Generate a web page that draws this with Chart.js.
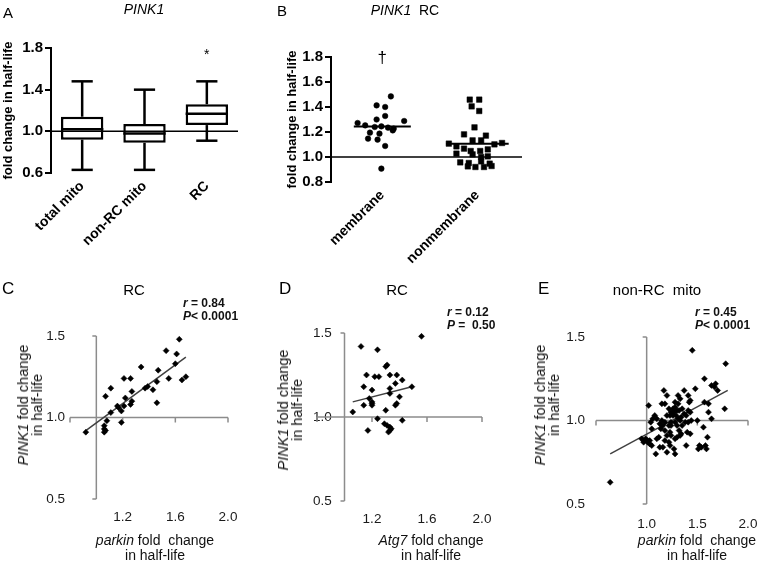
<!DOCTYPE html>
<html><head><meta charset="utf-8">
<script src="https://cdn.jsdelivr.net/npm/chart.js@4.4.1/dist/chart.umd.min.js"></script>
<style>
html,body{margin:0;padding:0;background:#fff;}
body{position:relative;width:759px;height:570px;overflow:hidden;font-family:Arial,"Liberation Sans",Helvetica,sans-serif;color:#000;}
canvas{position:absolute;}
.t{position:absolute;white-space:nowrap;line-height:1;}
.c{transform:translateX(-50%);}
.yt{position:absolute;white-space:nowrap;text-align:center;transform:translate(-50%,-50%) rotate(-90deg);font-size:14.5px;line-height:14px;color:#111;}
.xt{position:absolute;white-space:nowrap;text-align:center;transform:translateX(-50%);font-size:14px;line-height:15px;color:#111;}
.rp{position:absolute;white-space:nowrap;font-weight:bold;font-size:12px;line-height:13px;color:#111;}
</style></head><body>
<canvas id="cA" width="250" height="272" style="left:0px;top:0px"></canvas>
<canvas id="cB" width="270" height="272" style="left:262px;top:0px"></canvas>
<canvas id="cC" width="250" height="290" style="left:0px;top:280px"></canvas>
<canvas id="cD" width="250" height="290" style="left:250px;top:280px"></canvas>
<canvas id="cE" width="259" height="290" style="left:500px;top:280px"></canvas>

<div class="t" style="left:3px;top:5px;font-size:15px">A</div>
<div class="t c" style="left:144px;top:2px;font-size:14px;font-style:italic">PINK1</div>
<div class="t" style="left:277px;top:3px;font-size:15px">B</div>
<div class="t c" style="left:405px;top:3px;font-size:14px"><i>PINK1</i>&nbsp; RC</div>

<div class="t" style="left:2px;top:280px;font-size:17px">C</div>
<div class="t c" style="left:134px;top:282px;font-size:15px">RC</div>
<div class="rp" style="left:183px;top:297px"><i>r</i> = 0.84<br><i>P</i>&lt; 0.0001</div>
<div class="yt" style="left:30px;top:405px"><i>PINK1</i> fold change<br>in half-life</div>
<div class="xt" style="left:155px;top:533px"><i>parkin</i> fold&nbsp; change<br>in half-life</div>

<div class="t" style="left:279px;top:280px;font-size:17px">D</div>
<div class="t c" style="left:397px;top:282px;font-size:15px">RC</div>
<div class="rp" style="left:447px;top:306px"><i>r</i> = 0.12<br><i>P</i> = &nbsp;0.50</div>
<div class="yt" style="left:290px;top:410px"><i>PINK1</i> fold change<br>in half-life</div>
<div class="xt" style="left:431px;top:533px"><i>Atg7</i> fold change<br>in half-life</div>

<div class="t" style="left:538px;top:280px;font-size:17px">E</div>
<div class="t c" style="left:657px;top:282px;font-size:15px">non-RC&nbsp; mito</div>
<div class="rp" style="left:695px;top:306px"><i>r</i> = 0.45<br><i>P</i>&lt; 0.0001</div>
<div class="yt" style="left:547px;top:405px"><i>PINK1</i> fold change<br>in half-life</div>
<div class="xt" style="left:697px;top:533px"><i>parkin</i> fold&nbsp; change<br>in half-life</div>

<script>
// ---------- Panel A: box plots ----------
const boxCategories = ['total mito', 'non-RC mito', 'RC'];
const boxMin = [0.63, 0.63, 0.91];
const boxQ1 = [0.92, 0.89, 1.06];
const boxMedian = [1.02, 0.98, 1.17];
const boxQ3 = [1.14, 1.07, 1.26];
const boxMax = [1.48, 1.40, 1.48];
const aYTicks = [0.6, 1.0, 1.4, 1.8];

// ---------- Panel B: column scatter ----------
const bCategories = ['membrane', 'nonmembrane'];
const bYTicks = [0.8, 1.0, 1.2, 1.4, 1.6, 1.8];
const membranePts = [[0.09,1.485],[-0.06,1.413],[0.03,1.40],[0.03,1.328],[-0.06,1.30],[-0.26,1.272],[-0.18,1.253],[-0.08,1.24],[-0.01,1.245],[0.06,1.235],[0.12,1.227],[0.23,1.288],[-0.13,1.195],[-0.03,1.187],[0.11,1.213],[-0.15,1.147],[-0.05,1.139],[0.03,1.088],[-0.01,0.907]];
const nonmembranePts = [[0.92,1.459],[1.02,1.459],[0.94,1.405],[1.02,1.368],[0.97,1.237],[0.86,1.181],[1.09,1.171],[0.70,1.107],[0.78,1.085],[0.95,1.133],[1.04,1.133],[1.18,1.101],[1.26,1.112],[0.86,1.067],[0.93,1.048],[1.03,1.048],[1.11,1.061],[0.78,1.027],[0.95,1.021],[1.04,1.0],[1.11,1.005],[0.82,0.957],[0.91,0.952],[1.04,0.965],[1.13,0.947],[0.90,0.925],[0.98,0.92],[1.07,0.92],[1.15,0.928]];
const bMedians = [1.245, 1.107];

// ---------- Panel C: RC, parkin vs PINK1 ----------
const cPoints = [[0.92,0.91],[1.06,0.95],[1.06,0.93],[1.07,0.92],[1.06,0.91],[1.08,0.98],[1.11,1.03],[1.07,1.13],[1.11,1.18],[1.16,1.07],[1.17,1.06],[1.19,0.97],[1.19,1.04],[1.21,1.07],[1.22,1.12],[1.21,1.24],[1.26,1.24],[1.26,1.08],[1.27,1.10],[1.27,1.16],[1.34,1.31],[1.37,1.18],[1.39,1.19],[1.43,1.17],[1.46,1.09],[1.46,1.22],[1.47,1.29],[1.53,1.41],[1.55,1.24],[1.60,1.33],[1.61,1.39],[1.63,1.48],[1.65,1.23],[1.68,1.25]];
const cFit = [[0.92,0.92],[1.68,1.37]];
const cXTicks = [0.8, 1.2, 1.6, 2.0];

// ---------- Panel D: RC, Atg7 vs PINK1 ----------
const dPoints = [[1.56,1.48],[1.12,1.42],[1.24,1.40],[1.31,1.31],[1.30,1.30],[1.16,1.25],[1.22,1.24],[1.25,1.24],[1.33,1.25],[1.38,1.25],[1.42,1.22],[1.14,1.18],[1.20,1.16],[1.33,1.17],[1.37,1.20],[1.49,1.18],[1.33,1.14],[1.40,1.12],[1.18,1.11],[1.20,1.09],[1.20,1.08],[1.20,1.07],[1.14,1.07],[1.38,1.08],[1.37,1.07],[1.30,1.04],[1.06,1.03],[1.24,0.99],[1.42,0.98],[1.29,0.96],[1.31,0.95],[1.33,0.94],[1.34,0.93],[1.33,0.92],[1.32,0.91],[1.17,0.92]];
const dFit = [[1.06,1.09],[1.49,1.18]];
const dXTicks = [0.8, 1.2, 1.6, 2.0];

// ---------- Panel E: non-RC mito, parkin vs PINK1 ----------
const ePoints = [[1.45,1.42],[1.78,1.34],[1.57,1.25],[1.64,1.21],[1.67,1.20],[1.68,1.22],[1.70,1.18],[1.17,1.18],[1.37,1.18],[1.48,1.19],
[1.20,1.15],[1.31,1.15],[1.33,1.13],[1.41,1.15],[1.42,1.11],[1.43,1.12],[1.15,1.10],[1.18,1.10],[1.28,1.11],[1.31,1.10],
[1.57,1.11],[1.61,1.10],[1.02,1.09],[1.77,1.07],[1.22,1.07],[1.26,1.07],[1.28,1.08],[1.24,1.05],[1.27,1.05],[1.30,1.06],
[1.32,1.06],[1.35,1.07],[1.41,1.06],[1.43,1.05],[1.20,1.03],[1.23,1.03],[1.26,1.03],[1.29,1.03],[1.31,1.01],[1.34,1.02],
[1.37,1.04],[1.39,1.03],[1.08,1.03],[1.10,1.01],[1.06,1.01],[1.04,0.99],[1.15,1.00],[1.18,0.99],[1.24,0.99],[1.28,0.99],
[1.33,1.00],[1.38,0.99],[1.41,0.99],[1.44,1.00],[1.50,1.00],[1.64,1.01],[1.61,1.05],[1.13,0.98],[1.16,0.97],[1.22,0.97],
[1.24,0.97],[1.30,0.97],[1.35,0.97],[1.05,0.95],[1.14,0.95],[1.18,0.94],[1.23,0.93],[1.32,0.94],[1.34,0.92],[1.40,0.93],
[1.56,0.96],[1.20,0.91],[1.24,0.91],[1.30,0.90],[1.33,0.91],[1.10,0.89],[1.12,0.90],[0.95,0.89],[0.97,0.88],[0.99,0.89],
[1.01,0.88],[1.03,0.88],[0.97,0.87],[1.01,0.87],[1.03,0.86],[1.05,0.85],[1.18,0.88],[1.22,0.87],[1.28,0.89],[1.43,0.92],
[1.60,0.90],[1.13,0.84],[1.16,0.84],[1.23,0.85],[1.27,0.83],[1.39,0.85],[1.52,0.85],[1.54,0.84],[1.58,0.85],[1.59,0.83],
[1.51,0.83],[1.09,0.80],[1.28,0.80],[1.20,0.81],[0.64,0.63]];
const eFit = [[0.64,0.80],[1.80,1.18]];
const eXTicks = [0.5, 1.0, 1.5, 2.0];
const scatterYTicks = [0.5, 1.0, 1.5];

// ---------- shared ----------
const FAM = 'Arial, "Liberation Sans", Helvetica, sans-serif';
const toXY = p => ({x: p[0], y: p[1]});
const setTicks = arr => (s => { s.ticks = arr.map(v => ({value: v})); });

function line(ctx, x1, y1, x2, y2) { ctx.beginPath(); ctx.moveTo(x1, y1); ctx.lineTo(x2, y2); ctx.stroke(); }

const boxPlugin = {
  id: 'boxWhisker',
  afterDatasetsDraw(chart) {
    const {ctx, chartArea, scales: {y}} = chart;
    const meta = chart.getDatasetMeta(0);
    ctx.save();
    ctx.strokeStyle = '#000';
    ctx.lineWidth = 2.5;
    ctx.lineCap = 'butt';
    boxCategories.forEach((c, i) => {
      const bar = meta.data[i];
      const cx = bar.x, half = bar.width / 2, cap = half / 2;
      const yMin = y.getPixelForValue(boxMin[i]), yQ1 = y.getPixelForValue(boxQ1[i]);
      const yQ3 = y.getPixelForValue(boxQ3[i]), yMax = y.getPixelForValue(boxMax[i]);
      const yMed = y.getPixelForValue(boxMedian[i]);
      line(ctx, cx, yQ1, cx, yMin);
      line(ctx, cx, yQ3, cx, yMax);
      line(ctx, cx - cap, yMin, cx + cap, yMin);
      line(ctx, cx - cap, yMax, cx + cap, yMax);
      line(ctx, cx - half, yMed, cx + half, yMed);
    });
    ctx.lineWidth = 1.5;
    const y1 = y.getPixelForValue(1.0);
    line(ctx, chartArea.left, y1, chartArea.right, y1);
    ctx.fillStyle = '#000';
    ctx.font = '14px ' + FAM;
    ctx.textAlign = 'center';
    ctx.textBaseline = 'top';
    ctx.fillText('*', meta.data[2].x, y.getPixelForValue(1.8));
    ctx.restore();
  }
};

const bPlugin = {
  id: 'bMarks',
  afterDatasetsDraw(chart) {
    const {ctx, chartArea, scales: {x, y}} = chart;
    ctx.save();
    ctx.strokeStyle = '#000';
    ctx.lineWidth = 2;
    const halfW = [0.3, 0.33];
    bMedians.forEach((m, i) => {
      const py = y.getPixelForValue(m);
      line(ctx, x.getPixelForValue(i - halfW[i]), py, x.getPixelForValue(i + halfW[i]), py);
    });
    ctx.lineWidth = 1.5;
    const y1 = y.getPixelForValue(1.0);
    line(ctx, chartArea.left, y1, chartArea.right, y1);
    ctx.fillStyle = '#000';
    ctx.font = '17px ' + FAM;
    ctx.textAlign = 'center';
    ctx.textBaseline = 'middle';
    ctx.fillText('\u2020', x.getPixelForValue(0), y.getPixelForValue(1.8) + 1);
    ctx.restore();
  }
};

const crossAxes = {
  id: 'crossAxes',
  beforeDatasetsDraw(chart) {
    const {ctx, scales: {x, y}} = chart;
    const x0 = x.getPixelForValue(1.0), y0 = y.getPixelForValue(1.0);
    ctx.save();
    ctx.strokeStyle = '#8c8c8c';
    ctx.lineWidth = 1.5;
    ctx.beginPath();
    ctx.moveTo(x0, y.top); ctx.lineTo(x0, y.bottom);
    ctx.moveTo(x.left, y0); ctx.lineTo(x.right, y0);
    y.ticks.forEach(t => { const py = y.getPixelForValue(t.value); ctx.moveTo(x0 - 4, py); ctx.lineTo(x0, py); });
    x.ticks.forEach(t => { const px = x.getPixelForValue(t.value); ctx.moveTo(px, y0); ctx.lineTo(px, y0 + 5); });
    ctx.stroke();
    ctx.restore();
  }
};

const boldTick = {family: FAM, size: 15, weight: 'bold'};
const boldCat = {family: FAM, size: 14, weight: 'bold'};

// Panel A
new Chart(document.getElementById('cA'), {
  type: 'bar',
  data: {
    labels: boxCategories,
    datasets: [{
      data: boxCategories.map((c, i) => [boxQ1[i], boxQ3[i]]),
      backgroundColor: '#fff', borderColor: '#000', borderWidth: 2.5, borderSkipped: false,
      barPercentage: 0.68, categoryPercentage: 1
    }]
  },
  options: {
    responsive: false, animation: false,
    layout: {padding: {top: 48, right: 12, left: 0, bottom: 0}},
    plugins: {legend: {display: false}, tooltip: {enabled: false}},
    scales: {
      x: {
        grid: {display: false, tickLength: 0}, border: {display: false},
        ticks: {font: boldCat, color: '#000', minRotation: 45, maxRotation: 45, padding: 5, autoSkip: false},
        afterFit(s) { s.height = 99; s.paddingLeft = 0; s.paddingRight = 0; }
      },
      y: {
        min: 0.6, max: 1.8,
        afterBuildTicks: setTicks(aYTicks),
        ticks: {font: boldTick, color: '#000', padding: 2, callback: v => v.toFixed(1)},
        grid: {drawOnChartArea: false, tickLength: 6, color: '#000', lineWidth: 2},
        border: {color: '#000', width: 2},
        title: {display: true, text: 'fold change in half-life', color: '#000', font: {family: FAM, size: 13, weight: 'bold'}, padding: {top: 1, bottom: 2}},
        afterFit(s) { s.width = 51; }
      }
    }
  },
  plugins: [boxPlugin]
});

// Panel B
new Chart(document.getElementById('cB'), {
  type: 'scatter',
  data: {
    datasets: [
      {data: membranePts.map(toXY), pointStyle: 'circle', radius: 2.8, backgroundColor: '#000', borderColor: '#000', borderWidth: 0.5},
      {data: nonmembranePts.map(toXY), pointStyle: 'rect', radius: 3.9, backgroundColor: '#000', borderColor: '#000', borderWidth: 0.5}
    ]
  },
  options: {
    responsive: false, animation: false,
    layout: {padding: {top: 57, right: 10, left: 0, bottom: 0}},
    plugins: {legend: {display: false}, tooltip: {enabled: false}},
    scales: {
      x: {
        type: 'linear', min: -0.54, max: 1.47,
        grid: {display: false, tickLength: 0}, border: {display: false},
        afterBuildTicks: setTicks(bCategories.map((c, i) => i)),
        ticks: {font: boldCat, color: '#000', minRotation: 45, maxRotation: 45, padding: 5, autoSkip: false,
                callback: (v, i) => bCategories[i]},
        afterFit(s) { s.height = 90; s.paddingLeft = 0; s.paddingRight = 0; }
      },
      y: {
        min: 0.8, max: 1.8,
        afterBuildTicks: setTicks(bYTicks),
        ticks: {font: boldTick, color: '#000', padding: 2, callback: v => v.toFixed(1)},
        grid: {drawOnChartArea: false, tickLength: 6, color: '#000', lineWidth: 2},
        border: {color: '#000', width: 2},
        title: {display: true, text: 'fold change in half-life', color: '#000', font: {family: FAM, size: 13, weight: 'bold'}, padding: {top: 23, bottom: 2}},
        afterFit(s) { s.width = 69; }
      }
    }
  },
  plugins: [bPlugin]
});

// Panels C, D, E
function scatterPanel(id, pts, fit, xMin, xMax, xTicks, lay) {
  return new Chart(document.getElementById(id), {
    type: 'scatter',
    data: {
      datasets: [
        {data: pts.map(toXY), pointStyle: 'rectRot', radius: 3, backgroundColor: '#000', borderColor: '#000', borderWidth: 0.5},
        {data: fit.map(toXY), showLine: true, borderColor: '#404040', borderWidth: 1.5, pointRadius: 0, fill: false}
      ]
    },
    options: {
      responsive: false, animation: false,
      layout: {padding: {top: lay.top, right: lay.right, left: 0, bottom: 0}},
      plugins: {legend: {display: false}, tooltip: {enabled: false}},
      scales: {
        x: {
          type: 'linear', min: xMin, max: xMax,
          afterBuildTicks: setTicks(xTicks),
          grid: {display: false, tickLength: 0}, border: {display: false},
          ticks: {font: {family: FAM, size: 13.5}, color: '#1a1a1a', padding: lay.xPad, maxRotation: 0,
                  callback: (v, i) => i === 0 ? '' : v.toFixed(1)},
          afterFit(s) { s.height = lay.xH; s.paddingLeft = 0; s.paddingRight = 0; }
        },
        y: {
          min: 0.5, max: 1.5,
          afterBuildTicks: setTicks(scatterYTicks),
          grid: {display: false, tickLength: 0}, border: {display: false},
          ticks: {font: {family: FAM, size: 13.5}, color: '#1a1a1a', padding: lay.yPad, mirror: !!lay.mirror,
                  callback: v => v.toFixed(1)},
          afterFit(s) { s.width = lay.yW; s.paddingTop = 0; s.paddingBottom = 0; }
        }
      }
    },
    plugins: [crossAxes]
  });
}

scatterPanel('cC', cPoints, cFit, 0.8, 2.0, cXTicks, {top: 56, right: 22, xH: 71, yW: 70, xPad: 10, yPad: 5});
scatterPanel('cD', dPoints, dFit, 0.8, 2.0, dXTicks, {top: 53, right: 18, xH: 69, yW: 67, xPad: 10, yPad: -4, mirror: true});
scatterPanel('cE', ePoints, eFit, 0.5, 2.0, eXTicks, {top: 57, right: 11, xH: 66, yW: 96, xPad: 12, yPad: 11});
</script>
</body></html>
